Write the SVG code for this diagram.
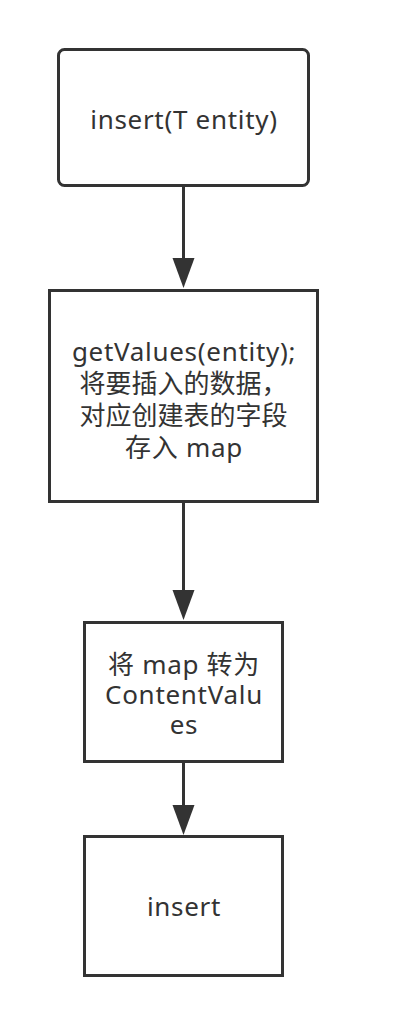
<svg xmlns="http://www.w3.org/2000/svg" width="400" height="1026" viewBox="0 0 400 1026">
<style>
.box{fill:#ffffff;stroke:#333333;stroke-width:3}
.lbl{font-family:"Noto Sans","Noto Sans CJK SC",sans-serif;font-size:26px;fill:#333333;text-anchor:middle}
.lat{letter-spacing:0.7px}
.cjk{letter-spacing:0}
.conn{stroke:#333333;stroke-width:3;fill:none}
</style>
<defs>
<marker id="arr" markerUnits="userSpaceOnUse" markerWidth="31" markerHeight="23" refX="0" refY="11" orient="auto" viewBox="0 0 31 23">
<path d="M0,0 L30,11 L0,22 Z" fill="#333333"/>
</marker>
</defs>
<rect width="400" height="1026" fill="#ffffff"/>
<g id="connectors">
<line class="conn" x1="183.5" y1="187" x2="183.5" y2="258" marker-end="url(#arr)"/>
<line class="conn" x1="183.5" y1="503" x2="183.5" y2="590" marker-end="url(#arr)"/>
<line class="conn" x1="183.5" y1="763" x2="183.5" y2="805" marker-end="url(#arr)"/>
</g>
<g id="node-insert-entity">
<rect class="box" x="58.5" y="49.5" width="250" height="136" rx="6"/>
<text class="lbl lat" x="184" y="129">insert(T entity)</text>
</g>
<g id="node-getvalues">
<rect class="box" x="49.5" y="290.5" width="268" height="211"/>
<text class="lbl"><tspan class="lat" x="184" y="361">getValues(entity);</tspan><tspan class="cjk" x="183.5" y="393">将要插入的数据，</tspan><tspan class="cjk" x="183.5" y="425">对应创建表的字段</tspan><tspan class="lat" x="184" y="457">存入 map</tspan></text>
</g>
<g id="node-contentvalues">
<rect class="box" x="84.5" y="622.5" width="198" height="139"/>
<text class="lbl lat"><tspan x="184" y="674">将 map 转为</tspan><tspan x="184" y="704">ContentValu</tspan><tspan x="184" y="734">es</tspan></text>
</g>
<g id="node-insert">
<rect class="box" x="84.5" y="836.5" width="198" height="139"/>
<text class="lbl lat" x="184" y="916">insert</text>
</g>
</svg>
